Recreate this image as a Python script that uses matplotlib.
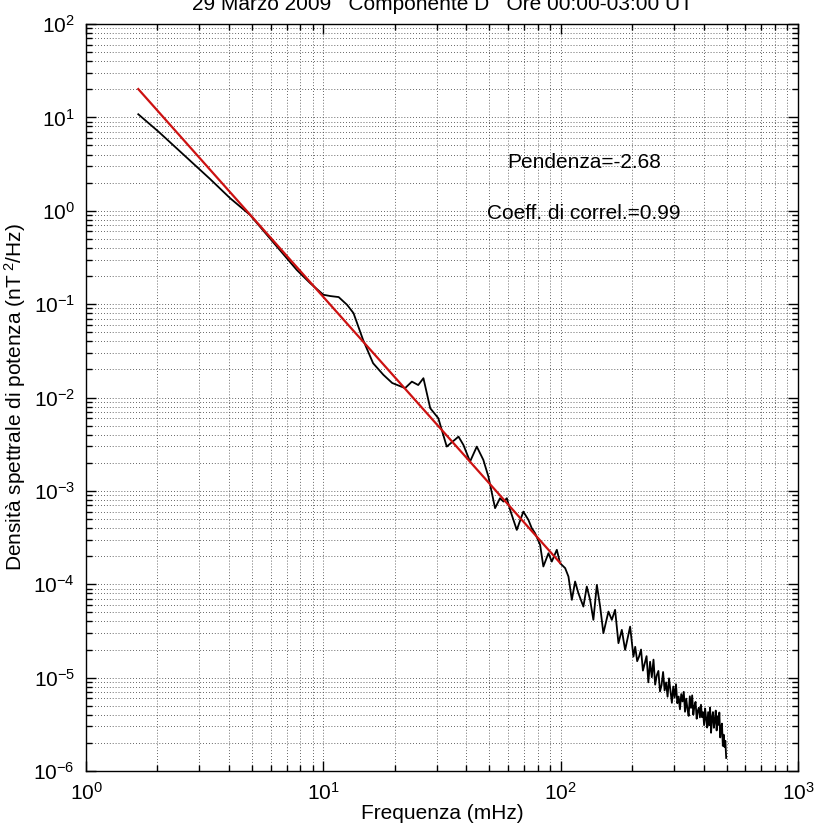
import matplotlib
matplotlib.use("Agg")
import matplotlib.pyplot as plt

# font simile a quello di MATLAB (Helvetica/Arial)
plt.rcParams['font.family'] = ['Liberation Sans', 'DejaVu Sans']
plt.rcParams['mathtext.fontset'] = 'custom'
plt.rcParams['mathtext.rm'] = 'Liberation Sans'
plt.rcParams['mathtext.it'] = 'Liberation Sans:italic'
plt.rcParams['mathtext.default'] = 'regular'

# ==================== dati ====================
title_text = "29 Marzo 2009   Componente D   Ore 00:00-03:00 UT"
x_label = "Frequenza (mHz)"
y_label = "Densità spettrale di potenza (nT$^{\\ 2}$/Hz)"
slope_text = "Pendenza=-2.68"
corr_text = "Coeff. di correl.=0.99"

# spettro (frequenza in mHz, densita' in nT^2/Hz)
freq_mhz = [
    1.66, 2.02, 3.33, 4.05, 4.91, 5.96, 7.73, 8.79, 10.0, 10.7,
    11.6, 12.6, 13.4, 14.7, 16.2, 17.9, 19.5, 22.1, 23.6, 25.1,
    26.4, 28.2, 30.5, 33.1, 37.1, 38.9, 41.5, 44.3, 47.2, 49.6,
    52.9, 55.5, 57.4, 59.3, 61.2, 65.3, 69.6, 73.1, 75.5, 78.0,
    81.9, 84.5, 88.8, 91.7, 96.3, 99.4, 104.4, 107.8, 111.4, 115.0,
    118.7, 124.6, 128.8, 133.0, 137.3, 142.0, 146.6, 151.3, 158.9, 164.2,
    169.5, 175.1, 180.9, 186.8, 196.1, 202.5,
    206, 210, 214, 218, 222, 226, 230, 234, 238, 242,
    246, 250, 254, 258, 262, 266, 270, 274, 278, 282,
    286, 290, 294, 298, 302, 306, 310, 314, 318, 322,
    326, 330, 334, 338, 342, 346, 350, 354, 358, 362,
    366, 370, 374, 378, 382, 386, 390, 394, 398, 402,
    406, 410, 414, 418, 422, 426, 430, 434, 438, 442,
    446, 450, 454, 458, 462, 466, 470, 474, 478, 482,
    486, 490, 494, 498,
]
psd = [
    10.8, 7.03, 2.19, 1.36, 0.902, 0.504, 0.232, 0.168, 0.126, 0.122,
    0.119, 0.098, 0.080, 0.0414, 0.0233, 0.0175, 0.0143, 0.0126, 0.0148, 0.0136,
    0.0161, 0.00768, 0.00600, 0.00298, 0.00381, 0.00311, 0.00206, 0.00298, 0.00215, 0.00142,
    6.53e-4, 8.35e-4, 7.68e-4, 8.35e-4, 6.26e-4, 3.82e-4, 6.00e-4, 4.89e-4, 3.99e-4, 3.52e-4,
    2.64e-4, 1.55e-4, 2.15e-4, 1.75e-4, 2.34e-4, 1.68e-4, 1.49e-4, 1.21e-4, 6.81e-5, 1.07e-4,
    8.03e-5, 5.77e-5, 9.45e-5, 6.81e-5, 4.16e-5, 9.85e-5, 5.77e-5, 2.99e-5, 5.10e-5, 4.16e-5,
    5.32e-5, 2.34e-5, 3.25e-5, 1.98e-5, 3.52e-5, 1.68e-5,
    2.14e-5, 1.50e-5, 1.69e-5, 2.00e-5, 1.19e-5, 1.43e-5, 1.70e-5, 8.91e-6, 1.48e-5, 1.01e-5,
    1.56e-5, 8.41e-6, 1.06e-5, 1.18e-5, 7.11e-6, 8.32e-6, 1.15e-5, 7.29e-6, 8.89e-6, 6.25e-6,
    9.84e-6, 7.27e-6, 5.37e-6, 8.04e-6, 6.13e-6, 8.51e-6, 5.32e-6, 6.28e-6, 4.58e-6, 6.67e-6,
    5.56e-6, 7.05e-6, 4.31e-6, 5.96e-6, 4.62e-6, 3.89e-6, 6.32e-6, 4.74e-6, 6.46e-6, 4.01e-6,
    4.97e-6, 5.50e-6, 3.63e-6, 4.42e-6, 4.76e-6, 3.75e-6, 5.13e-6, 3.77e-6, 4.27e-6, 3.10e-6,
    4.66e-6, 3.61e-6, 2.92e-6, 4.27e-6, 3.10e-6, 4.79e-6, 2.57e-6, 3.68e-6, 4.28e-6, 2.90e-6,
    3.47e-6, 4.44e-6, 2.72e-6, 3.85e-6, 3.12e-6, 4.23e-6, 2.29e-6, 2.95e-6, 3.22e-6, 1.86e-6,
    2.45e-6, 1.81e-6, 2.11e-6, 1.38e-6,
]

# retta di regressione (estremi)
fit_freq = [1.66, 99.5]
fit_psd = [20.1, 1.69e-4]

x_lim = [1, 1000]
y_lim = [1e-6, 100]
# ================================================================

fig = plt.figure(figsize=(8.17, 8.33), dpi=100)
ax = fig.add_axes([0.1053, 0.0744, 0.8715, 0.8968])

ax.loglog(freq_mhz, psd, color='black', lw=1.3)
ax.loglog(fit_freq, fit_psd, color='#cc1111', lw=1.6)

ax.set_xlim(x_lim)
ax.set_ylim(y_lim)

# griglia tratteggiata stile MATLAB
ax.grid(True, which='both', linestyle=(0, (1, 2.5)), color='0.2', lw=0.6)
ax.tick_params(which='both', direction='in', top=True, right=True,
               labelsize=15, width=1.0)
ax.tick_params(which='major', length=7, pad=8)
ax.tick_params(which='minor', length=4)
for s in ax.spines.values():
    s.set_linewidth(1.0)

ax.set_xlabel(x_label, fontsize=15, labelpad=0)
ax.set_ylabel(y_label, fontsize=15, labelpad=4)

ax.text(0.591, 0.807, slope_text, transform=ax.transAxes, fontsize=15,
        va='baseline', ha='left')
ax.text(0.563, 0.739, corr_text, transform=ax.transAxes, fontsize=15,
        va='baseline', ha='left')

# titolo tagliato in alto come nell'originale
fig.text(0.542, 1 - 10 / 833, title_text, fontsize=15, ha='center', va='baseline')

fig.savefig('out.png', dpi=100)
